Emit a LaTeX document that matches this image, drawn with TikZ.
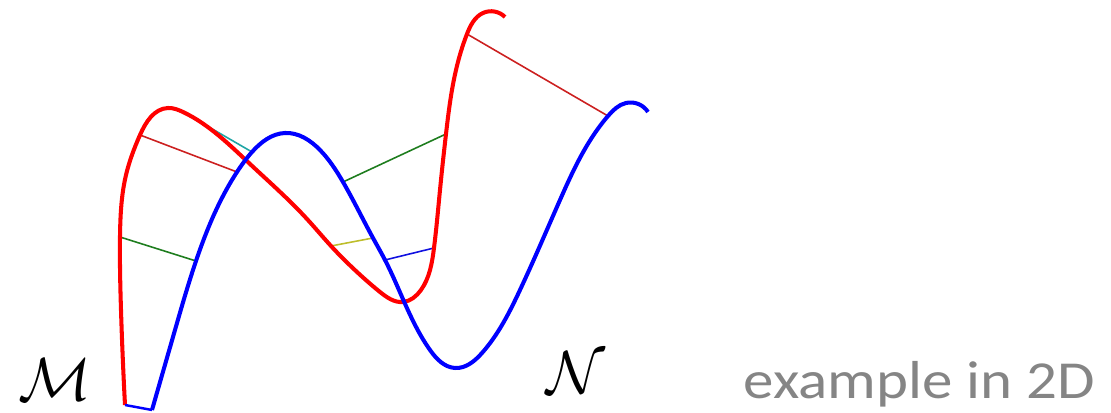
\documentclass[tikz,border=0pt]{standalone}
\usepackage{fontspec}
\usepackage{tikz}
\usetikzlibrary{positioning,hobby}
\newfontfamily\labelfont{Carlito}
\definecolor{curvem}{HTML}{FF0000}
\definecolor{curven}{HTML}{0000FF}
\definecolor{lnred}{HTML}{CC2020}
\definecolor{lngreen}{HTML}{1E7D1E}
\definecolor{lncyan}{HTML}{1FA5A5}
\definecolor{lnyellow}{HTML}{BDBD2A}
\definecolor{lnblue}{HTML}{1010E0}
\definecolor{captiongray}{HTML}{858585}
\tikzset{
  curve/.style={draw=#1, line width=1.15pt, line join=round},
  curve/.default=curvem,
  link/.style={draw=#1, line width=0.45pt},
  link/.default=lnred,
  manifold/.style={font=\fontsize{18}{22}\selectfont, inner sep=0pt},
  caption/.style={font=\labelfont\fontsize{15.2}{18}\selectfont, text=captiongray,
    inner sep=0pt, anchor=base west, xscale=1.14}
}
\begin{document}
\begin{tikzpicture}[x=0.01cm, y=-0.01cm]
  \useasboundingbox (0,0) rectangle (1111,413);
  % points on M
  \coordinate (m0) at (125,405);  \coordinate (m1) at (121,310);
  \coordinate (m2) at (120,237);  \coordinate (m3) at (126,175);
  \coordinate (m4) at (140,135);  \coordinate (m5) at (168,108);
  \coordinate (m6) at (183,112);  \coordinate (m7) at (250,164);
  \coordinate (m8) at (307,219);  \coordinate (m9) at (331,246);
  \coordinate (m10) at (357,272); \coordinate (m11) at (380,292);
  \coordinate (m12) at (403,302); \coordinate (m13) at (421,290);
  \coordinate (m14) at (434,248); \coordinate (m15) at (440,190);
  \coordinate (m16) at (446,134); \coordinate (m17) at (456,70);
  \coordinate (m18) at (467,34);  \coordinate (m19) at (483,13);
  \coordinate (m20) at (505,17);
  % points on N
  \coordinate (n0) at (152,410);  \coordinate (n1) at (175,330);
  \coordinate (n2) at (196,261);  \coordinate (n3) at (237,172);
  \coordinate (n4) at (252,152);  \coordinate (n5) at (285,133);
  \coordinate (n6) at (320,150);  \coordinate (n7) at (343,182);
  \coordinate (n8) at (373,238);  \coordinate (n9) at (385,260);
  \coordinate (n11) at (430,350); \coordinate (n12) at (455,368);
  \coordinate (n13) at (482,353); \coordinate (n14) at (520,290);
  \coordinate (n15) at (560,200); \coordinate (n16) at (608,116);
  \coordinate (n17) at (626,103); \coordinate (n18) at (648,112);

  \foreach \a/\b/\c in {m4/n3/lnred, m2/n2/lngreen, m6/n4/lncyan, n7/m16/lngreen,
      m9/n8/lnyellow, n9/m14/lnblue, m18/n16/lnred}
    \draw[link=\c] (\a) -- (\b);

  \draw[curve=curvem] (m0) to[curve through={(m1) (m2) (m3) (m4) (m5) (m6) (m7) (m8)
    (m9) (m10) (m11) (m12) (m13) (m14) (m15) (m16) (m17) (m18) (m19)}] (m20);
  \draw[curve=curven] (n0) to[curve through={(n1) (n2) (n3) (n4) (n5) (n6) (n7) (n8)
    (n9) (n11) (n12) (n13) (n14) (n15) (n16) (n17)}] (n18);
  \draw[draw=curven, line width=0.7pt] (m0) -- (n0);

  \node[manifold] (labm) at (55,380) {$\mathcal{M}$};
  \node[manifold] (labn) at (576,373) {$\mathcal{N}$};
  \node[caption] (cap) at (743,399) {example in 2D};
\end{tikzpicture}
\end{document}
